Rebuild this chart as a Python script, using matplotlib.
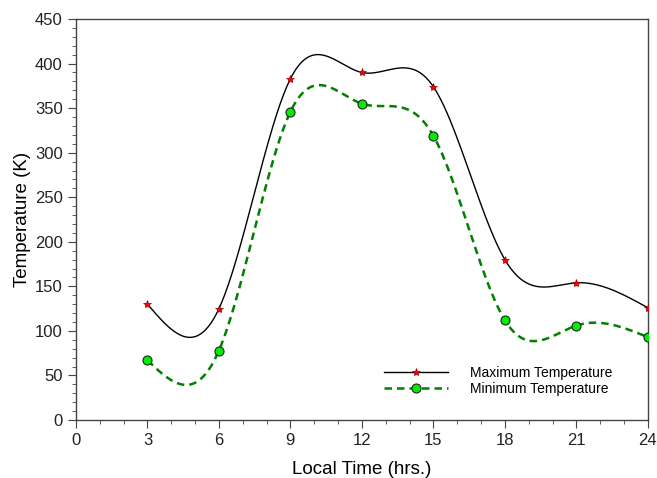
import numpy as np
import matplotlib.pyplot as plt
from matplotlib.ticker import MultipleLocator
from matplotlib.lines import Line2D

plt.rcParams['font.family'] = ['Liberation Sans', 'DejaVu Sans']

hours = [3, 6, 9, 12, 15, 18, 21, 24]
t_max = [130, 125, 383, 390, 374, 180, 154, 126]
t_min = [67, 78, 346, 355, 319, 112, 106, 93]


def natural_spline(x, y, n=300):
    # plain natural cubic spline, used only to draw the smooth line
    x = np.asarray(x, float)
    y = np.asarray(y, float)
    k = len(x)
    h = np.diff(x)
    A = np.zeros((k, k))
    b = np.zeros(k)
    A[0, 0] = A[-1, -1] = 1
    for i in range(1, k - 1):
        A[i, i - 1] = h[i - 1]
        A[i, i] = 2 * (h[i - 1] + h[i])
        A[i, i + 1] = h[i]
        b[i] = 6 * ((y[i + 1] - y[i]) / h[i] - (y[i] - y[i - 1]) / h[i - 1])
    M = np.linalg.solve(A, b)
    xs = np.linspace(x[0], x[-1], n)
    idx = np.clip(np.searchsorted(x, xs) - 1, 0, k - 2)
    x0, x1 = x[idx], x[idx + 1]
    hh = x1 - x0
    ys = (M[idx] * (x1 - xs) ** 3 / (6 * hh) + M[idx + 1] * (xs - x0) ** 3 / (6 * hh)
          + (y[idx] / hh - M[idx] * hh / 6) * (x1 - xs)
          + (y[idx + 1] / hh - M[idx + 1] * hh / 6) * (xs - x0))
    return xs, ys


star = dict(marker='*', ms=6, mfc='red', mec='#990000', mew=0.5)
dot = dict(marker='o', ms=6.5, mfc='#00ee00', mec='#222222', mew=0.8)
dash = (0, (3, 2))

fig = plt.figure(figsize=(6.57, 4.78), dpi=100)
ax = fig.add_axes([0.1157, 0.1213, 0.8703, 0.8389])

xs, ys = natural_spline(hours, t_max)
ax.plot(xs, ys, color='black', lw=1.0, zorder=2)
ax.plot(hours, t_max, ls='none', zorder=3, **star)

xs, ys = natural_spline(hours, t_min)
ax.plot(xs, ys, color='#008000', lw=1.8, ls=dash, zorder=2)
ax.plot(hours, t_min, ls='none', zorder=3, **dot)

ax.set_xlim(0, 24)
ax.set_ylim(0, 450)
ax.xaxis.set_major_locator(MultipleLocator(3))
ax.xaxis.set_minor_locator(MultipleLocator(1))
ax.yaxis.set_major_locator(MultipleLocator(50))
ax.yaxis.set_minor_locator(MultipleLocator(10))
ax.tick_params(which='both', direction='out', top=False, right=False, labelsize=12,
               colors='#444444', labelcolor='#222222')
ax.tick_params(which='major', length=6)
ax.tick_params(which='minor', length=3)
for s in ax.spines.values():
    s.set_color('#444444')
    s.set_linewidth(1.0)

ax.set_xlabel('Local Time (hrs.)', fontsize=13.5, labelpad=9)
ax.set_ylabel('Temperature (K)', fontsize=13.5, labelpad=3)

handles = [
    Line2D([], [], color='black', lw=1.0, **star),
    Line2D([], [], color='#008000', lw=1.8, ls=dash, **dot),
]
ax.legend(handles, ['Maximum Temperature', 'Minimum Temperature'], loc='center left',
          bbox_to_anchor=(0.538, 0.097), frameon=False, fontsize=10, handlelength=4.6,
          labelspacing=0.15, handletextpad=1.6, borderpad=0, borderaxespad=0)

fig.savefig('out.png', dpi=100)
